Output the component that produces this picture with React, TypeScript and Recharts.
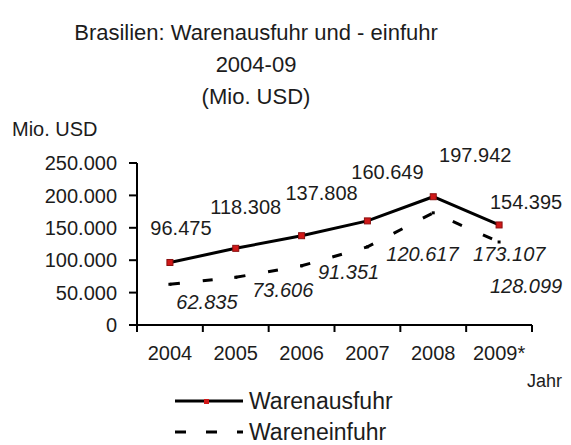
import React from 'react';
import { LineChart, Line, XAxis, YAxis, Legend } from 'recharts';

const years = ['2004', '2005', '2006', '2007', '2008', '2009*'];
const ausfuhr = [96475, 118308, 137808, 160649, 197942, 154395];
const einfuhr = [62835, 73606, 91351, 120617, 173107, 128099];
const yTicks = [0, 50000, 100000, 150000, 200000, 250000];

// label shifts relative to each point (the source chart has them a bit scattered)
const ausfuhrLabelShift = [[11, -34], [10, -41], [20, -43], [20, -49], [42, -42], [27, -23]];
const einfuhrLabelShift = [[37, 18], [47, 13], [47, 6], [55, 7], [76, 41], [27, 44]];

const data = years.map((year, i) => ({ idx: i, year, ausfuhr: ausfuhr[i], einfuhr: einfuhr[i] }));

// integer ticks carry the year labels, half-step ticks are the boundary tick marks
const xTicks: number[] = [];
for (let i = 0; i <= years.length * 2; i++) xTicks.push(i / 2 - 0.5);

const FONT = '"Liberation Sans", Arial, sans-serif';
const INK = '#1c1c1c';

const fmt = (v: number) => (v === 0 ? '0' : String(v).replace(/\B(?=(\d{3})+(?!\d))/g, '.'));

const XTick = ({ x, y, payload }: any) => {
  const v = payload.value;
  if (Number.isInteger(v)) {
    return (
      <text x={x} y={y + 35} textAnchor="middle" fontSize={20} fill={INK} fontFamily={FONT}>
        {years[v]}
      </text>
    );
  }
  return <line x1={x} y1={y} x2={x} y2={y + 7} stroke="#000" strokeWidth={2} />;
};

const makeLabel = (shift: number[][], italic: boolean) => (props: any) => {
  const { x, y, index, value } = props;
  const [dx, dy] = shift[index];
  return (
    <text
      x={x + dx}
      y={y + dy}
      textAnchor="middle"
      dominantBaseline="central"
      fontSize={20}
      fontStyle={italic ? 'italic' : 'normal'}
      fill={INK}
      fontFamily={FONT}
    >
      {fmt(value)}
    </text>
  );
};

const ExportDot = ({ cx, cy }: any) => (
  <rect x={cx - 3} y={cy - 3} width={6} height={6} fill="#d01818" stroke="#8a1010" strokeWidth={1} />
);

const ImportDot = ({ cx, cy }: any) => <rect x={cx - 1.5} y={cy - 1.5} width={3} height={3} fill="#000" />;

const renderLegend = () => (
  <div style={{ fontFamily: FONT, fontSize: 23, color: INK }}>
    <div style={{ display: 'flex', alignItems: 'center', height: 40, lineHeight: '40px' }}>
      <svg width={78} height={20}>
        <line x1={4} y1={10} x2={72} y2={10} stroke="#000" strokeWidth={3} />
        <rect x={33} y={8} width={5} height={5} fill="#d01818" />
      </svg>
      <span>Warenausfuhr</span>
    </div>
    <div style={{ display: 'flex', alignItems: 'center', height: 22, lineHeight: '22px' }}>
      <svg width={78} height={20}>
        <line x1={4} y1={10} x2={72} y2={10} stroke="#000" strokeWidth={3} strokeDasharray="11 20" />
      </svg>
      <span>Wareneinfuhr</span>
    </div>
  </div>
);

export default function App() {
  return (
    <div style={{ position: 'absolute', left: 0, top: 0, width: 571, height: 445, background: '#fff', fontFamily: FONT, color: INK }}>
      <div style={{ position: 'absolute', left: 0, width: 512, top: 17, textAlign: 'center', fontSize: 22, lineHeight: '32px' }}>
        <div>Brasilien: Warenausfuhr und - einfuhr</div>
        <div>2004-09</div>
        <div>(Mio. USD)</div>
      </div>
      <div style={{ position: 'absolute', left: 12, top: 118, fontSize: 20 }}>Mio. USD</div>
      <div style={{ position: 'absolute', left: 527, top: 371, fontSize: 18 }}>Jahr</div>
      <LineChart width={571} height={445} data={data} margin={{ top: 163, right: 39, bottom: 90, left: 0 }}>
        <XAxis
          dataKey="idx"
          type="number"
          domain={[-0.5, 5.5]}
          ticks={xTicks}
          interval={0}
          tick={<XTick />}
          tickLine={false}
          tickSize={0}
          tickMargin={0}
          axisLine={{ stroke: '#000', strokeWidth: 2 }}
          height={30}
        />
        <YAxis
          width={137}
          domain={[0, 250000]}
          ticks={yTicks}
          interval={0}
          tickFormatter={fmt}
          tickSize={8}
          tickMargin={12}
          tick={{ fontSize: 20, fill: INK, fontFamily: FONT }}
          tickLine={{ stroke: '#000', strokeWidth: 2 }}
          axisLine={{ stroke: '#000', strokeWidth: 2 }}
        />
        <Legend
          layout="horizontal"
          verticalAlign="middle"
          align="center"
          content={renderLegend}
          wrapperStyle={{ top: 381, left: 171, width: 260 }}
        />
        <Line
          dataKey="einfuhr"
          name="Wareneinfuhr"
          type="linear"
          stroke="#000"
          strokeWidth={3}
          strokeDasharray="10 23"
          dot={<ImportDot />}
          activeDot={false}
          label={makeLabel(einfuhrLabelShift, true)}
          isAnimationActive={false}
        />
        <Line
          dataKey="ausfuhr"
          name="Warenausfuhr"
          type="linear"
          stroke="#000"
          strokeWidth={3}
          dot={<ExportDot />}
          activeDot={false}
          label={makeLabel(ausfuhrLabelShift, false)}
          isAnimationActive={false}
        />
      </LineChart>
    </div>
  );
}
